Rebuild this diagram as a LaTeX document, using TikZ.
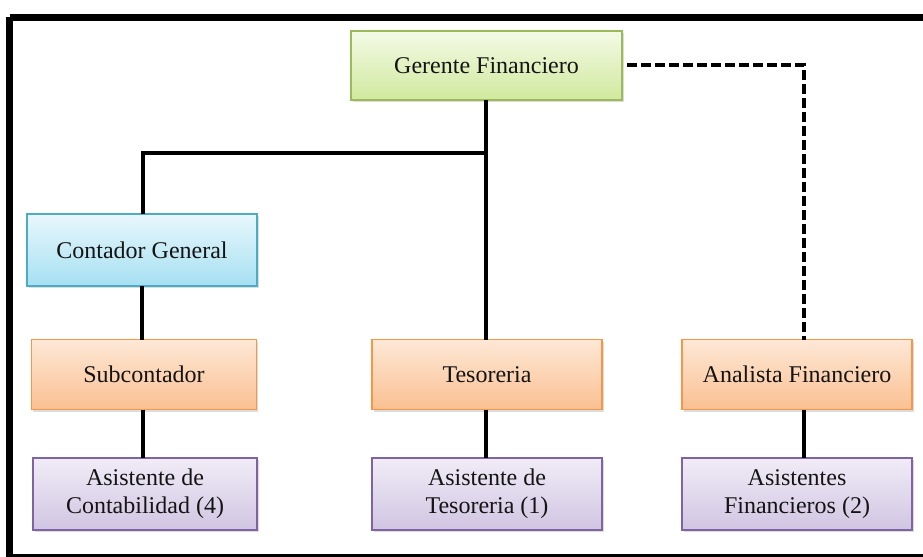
\documentclass[tikz,border=0pt]{standalone}
\usepackage{fontspec}
\setmainfont{Liberation Serif}
\usetikzlibrary{shadows}

% Office-like accent colours
\definecolor{grnTop}{RGB}{244,250,230}
\definecolor{grnBot}{RGB}{208,233,158}
\definecolor{grnLine}{RGB}{155,187,89}
\definecolor{bluTop}{RGB}{232,247,252}
\definecolor{bluBot}{RGB}{166,224,242}
\definecolor{bluLine}{RGB}{75,172,198}
\definecolor{orgTop}{RGB}{253,232,214}
\definecolor{orgBot}{RGB}{251,192,146}
\definecolor{orgLine}{RGB}{247,150,70}
\definecolor{purTop}{RGB}{241,236,247}
\definecolor{purBot}{RGB}{208,197,226}
\definecolor{purLine}{RGB}{128,100,162}
\definecolor{txt}{RGB}{20,20,20}

\tikzset{
  box/.style={rectangle, line width=1pt, inner sep=2pt, outer sep=0pt,
    align=center, text=txt,
    font=\fontsize{18}{21}\selectfont,
    drop shadow={opacity=0.28, shadow xshift=1.2pt, shadow yshift=-1.5pt}},
  gbox/.style={box, draw=grnLine, top color=grnTop, bottom color=grnBot},
  bbox/.style={box, draw=bluLine, top color=bluTop, bottom color=bluBot},
  obox/.style={box, draw=orgLine, top color=orgTop, bottom color=orgBot},
  pbox/.style={box, draw=purLine, top color=purTop, bottom color=purBot},
  link/.style={line width=2.7pt, black},
  dlink/.style={line width=2.7pt, black, dash pattern=on 7.5pt off 3pt}
}

\begin{document}
\begin{tikzpicture}[x=0.75pt,y=-0.75pt]
\useasboundingbox (0,0) rectangle (923,556);

% outer frame (its right side lies beyond the page)
\draw[line width=5.25pt] (9.5,17.5) -- (960,17.5)
  (9.5,17.5) -- (9.5,557) -- (960,557);

% top level
\node[gbox, minimum width=203.25pt, minimum height=51.75pt] (gf) at (486.5,65.5) {Gerente Financiero};

% accounting branch
\node[bbox, minimum width=172.5pt, minimum height=54pt] (cg) at (142,250) {Contador General};
\node[obox, minimum width=168.75pt, minimum height=52.5pt] (sub) at (144,374.5) {Subcontador};
\node[pbox, minimum width=168pt, minimum height=54pt] (ac) at (145,494) {Asistente de\\Contabilidad (4)};

% treasury branch
\node[obox, minimum width=172.5pt, minimum height=52.5pt] (tes) at (487,374.5) {Tesoreria};
\node[pbox, minimum width=172.5pt, minimum height=54pt] (at) at (487,494) {Asistente de\\Tesoreria (1)};

% analysis branch
\node[obox, minimum width=172.5pt, minimum height=52.5pt] (an) at (797,374.5) {Analista Financiero};
\node[pbox, minimum width=172.5pt, minimum height=54pt] (af) at (797,494) {Asistentes\\Financieros (2)};

\coordinate (j) at (486,153);

% connectors
\draw[link] (gf.south -| j) -- (tes.north -| j);
\draw[link] (j) -| ([xshift=0.75pt]cg.north);
\draw[link] (cg.south) -- (cg.south |- sub.north);
\draw[link] ([xshift=-0.75pt]sub.south) -- ([xshift=-0.75pt]sub.south |- ac.north);
\draw[link] (tes.south -| j) -- (at.north -| j);
\draw[dlink] ([xshift=3.75pt,yshift=0.4pt]gf.east) -| ([xshift=5.25pt]an.north);
\draw[link] ([xshift=5.25pt]an.south) -- ([xshift=5.25pt]af.north);
\end{tikzpicture}
\end{document}
